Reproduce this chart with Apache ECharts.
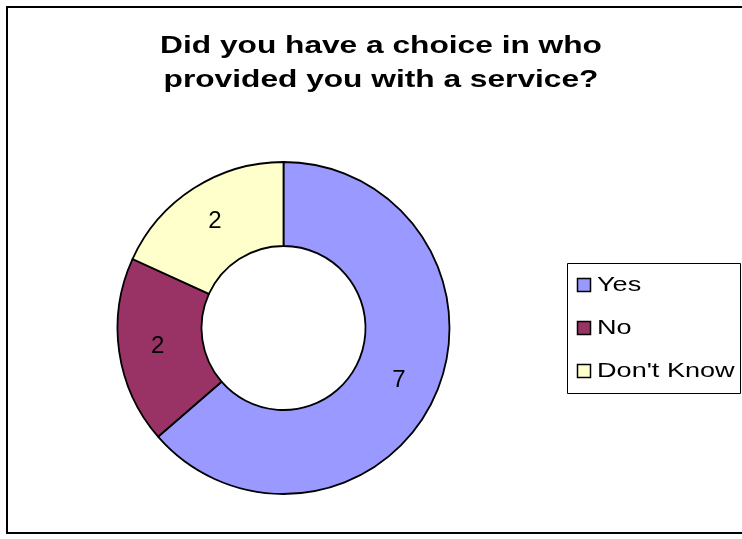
<!DOCTYPE html>
<html>
<head>
<meta charset="utf-8">
<style>
  html, body { margin: 0; padding: 0; background: #fff; }
  #chart { width: 742px; height: 539px; }
</style>
<script src="https://cdn.jsdelivr.net/npm/echarts@6/dist/echarts.min.js"></script>
</head>
<body>
<div id="chart"></div>
<script>
// Survey answers and counts
const categories = ['Yes', 'No', "Don't Know"];
const counts = [7, 2, 2];
const sliceColors = ['#9999FF', '#993366', '#FFFFCC'];
const titleLines = ['Did you have a choice in who', 'provided you with a service?'];

const FONT = 'Liberation Sans, Arial, sans-serif';
// Text in this chart is drawn horizontally widened
const WIDEN = 1.32;

const chart = echarts.init(document.getElementById('chart'), null, { renderer: 'canvas' });

const pieData = categories.map((name, i) => ({
  name: name,
  value: counts[i],
  itemStyle: { color: sliceColors[i] }
}));

// Title lines, centred over the plot area
const titleGraphics = titleLines.map((line, i) => ({
  type: 'text',
  x: 381,
  y: 46.5 + i * 33.5,
  scaleX: WIDEN,
  silent: true,
  style: {
    text: line,
    font: 'bold 24px ' + FONT,
    fill: '#000',
    align: 'center',
    verticalAlign: 'middle'
  }
}));

// Boxed key on the right: swatch + name for every category
const legendLeft = 567, legendTop = 263, legendRight = 740, legendBottom = 393;
const firstRowY = 285, rowGap = 43;
const legendGraphics = [{
  type: 'rect',
  silent: true,
  shape: { x: legendLeft + 0.5, y: legendTop + 0.5, width: legendRight - legendLeft, height: legendBottom - legendTop },
  style: { fill: '#fff', stroke: '#000', lineWidth: 1 }
}];
categories.forEach((name, i) => {
  const cy = firstRowY + i * rowGap;
  legendGraphics.push({
    type: 'rect',
    silent: true,
    shape: { x: 577.5, y: cy - 6.5, width: 13, height: 13 },
    style: { fill: sliceColors[i], stroke: '#000', lineWidth: 1.5 }
  });
  legendGraphics.push({
    type: 'text',
    silent: true,
    x: 597,
    y: cy,
    scaleX: 1.29,
    style: {
      text: name,
      font: '21px ' + FONT,
      fill: '#000',
      align: 'left',
      verticalAlign: 'middle'
    }
  });
});

chart.setOption({
  animation: false,
  backgroundColor: '#ffffff',
  graphic: [{
    type: 'rect',
    shape: { x: 7, y: 7, width: 740, height: 526 },
    style: { fill: 'none', stroke: '#000', lineWidth: 2 },
    silent: true,
    z: 100
  }].concat(titleGraphics, legendGraphics),
  series: [{
    type: 'pie',
    center: [283.5, 328],
    radius: [82, 166],
    startAngle: 90,
    clockwise: true,
    avoidLabelOverlap: false,
    silent: true,
    itemStyle: { borderColor: '#000', borderWidth: 1.8 },
    label: {
      show: true,
      position: 'inside',
      formatter: '{c}',
      fontFamily: FONT,
      fontSize: 24,
      color: '#000'
    },
    labelLine: { show: false },
    data: pieData
  }]
});
</script>
</body>
</html>
